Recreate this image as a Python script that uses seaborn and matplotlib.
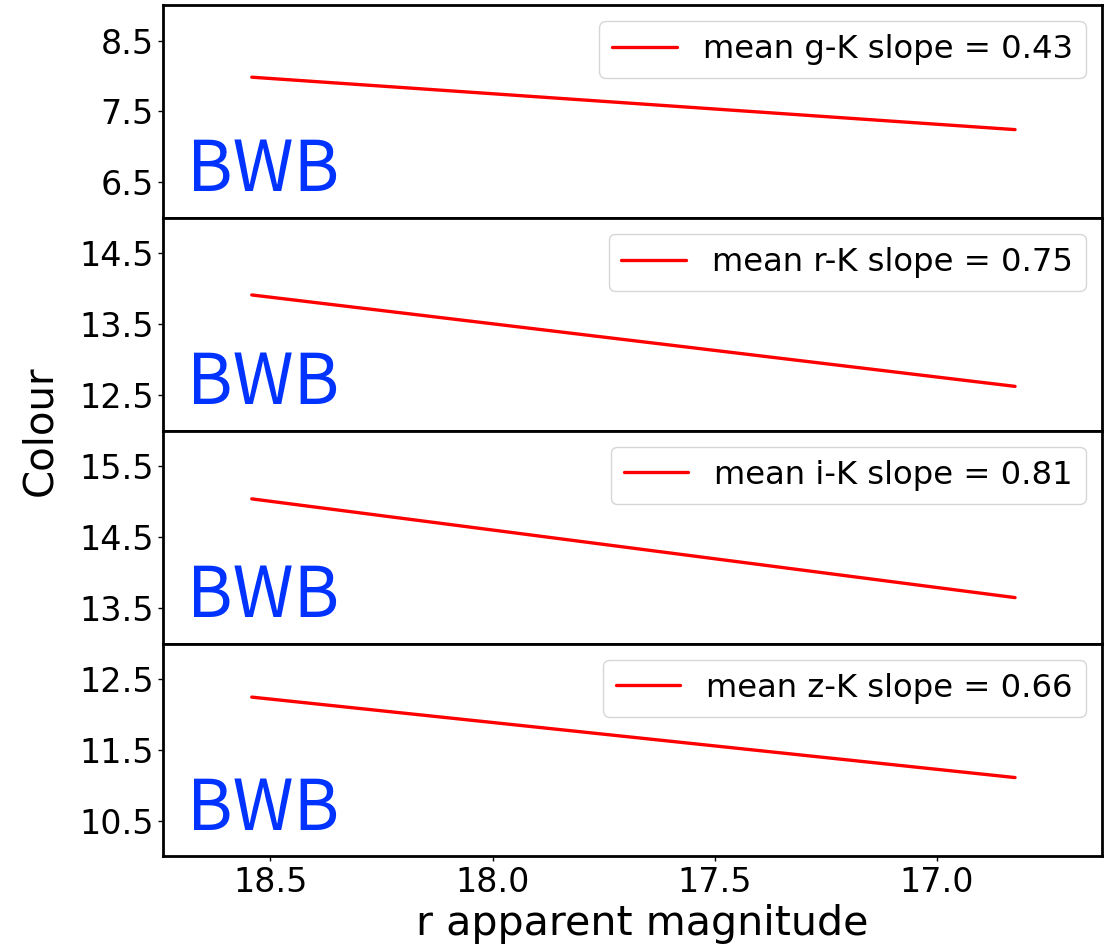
import numpy as np
import pandas as pd
import matplotlib
matplotlib.use("Agg")
import matplotlib.pyplot as plt
import seaborn as sns

# Fitted colour-magnitude relations for the BWB sample
colours = ["g-K", "r-K", "i-K", "z-K"]
slopes = [0.43, 0.75, 0.81, 0.66]
mag_range = [18.542, 16.824]           # r apparent magnitude at the ends of the fit
colour_at_faint_end = [7.983, 13.914, 15.04, 12.246]

y_limits = [(6.0, 9.0), (12.0, 15.0), (13.0, 16.0), (10.0, 13.0)]
y_ticks = [[6.5, 7.5, 8.5], [12.5, 13.5, 14.5], [13.5, 14.5, 15.5], [10.5, 11.5, 12.5]]
x_ticks = [18.5, 18.0, 17.5, 17.0]
x_limits = (18.741, 16.629)

sns.set_theme(style="ticks")
plt.rcParams["font.family"] = ["DejaVu Sans"]
plt.rcParams.update({
    "axes.linewidth": 2.0,
    "axes.edgecolor": "black",
    "axes.labelcolor": "black",
    "text.color": "black",
    "xtick.major.size": 3.5,
    "ytick.major.size": 3.5,
    "xtick.major.width": 1.0,
    "ytick.major.width": 1.0,
    "xtick.color": "black",
    "ytick.color": "black",
    "legend.fancybox": True,
})

rows = []
for name, slope, c0 in zip(colours, slopes, colour_at_faint_end):
    for m in mag_range:
        rows.append({"band": name, "mag": m,
                     "colour": c0 - slope * (mag_range[0] - m),
                     "label": f"mean {name} slope = {slope:.2f}"})
fits = pd.DataFrame(rows)

fig, axes = plt.subplots(4, 1, sharex=True, figsize=(11.09, 9.51), dpi=100)
fig.subplots_adjust(left=0.1473, right=0.9934, top=0.9947, bottom=0.0994, hspace=0)

for i, (ax, name) in enumerate(zip(axes, colours)):
    sub = fits[fits["band"] == name]
    sns.lineplot(data=sub, x="mag", y="colour", ax=ax, color="red",
                 linewidth=2.4, label=sub["label"].iloc[0])
    ax.set_ylim(*y_limits[i])
    ax.set_yticks(y_ticks[i])
    ax.set_ylabel("")
    ax.set_xlabel("")
    ax.tick_params(axis="both", labelsize=24, labelcolor="black")
    for s in ax.spines.values():
        s.set_visible(True)
        s.set_linewidth(2.0)
    leg = ax.legend(loc="upper right", fontsize=23.2, framealpha=0.8,
                    edgecolor="0.8")
    for t in leg.get_texts():
        t.set_color("black")
    ax.text(0.0257, 0.125, "BWB", transform=ax.transAxes, fontsize=50,
            color="#0033ff", family=["Noto Sans CJK SC", "DejaVu Sans"],
            ha="left", va="baseline")
    if i < 3:
        ax.tick_params(axis="x", bottom=False, labelbottom=False)

axes[-1].set_xlim(*x_limits)
axes[-1].set_xticks(x_ticks)
axes[-1].set_xticklabels([f"{t:.1f}" for t in x_ticks])
axes[-1].set_xlabel("r apparent magnitude", fontsize=29.6)
axes[-1].xaxis.set_label_coords(0.5107, -0.225)
fig.text(0.036, 0.5475, "Colour", rotation=90, fontsize=29,
         ha="center", va="center")

fig.savefig("out.png", dpi=100)
